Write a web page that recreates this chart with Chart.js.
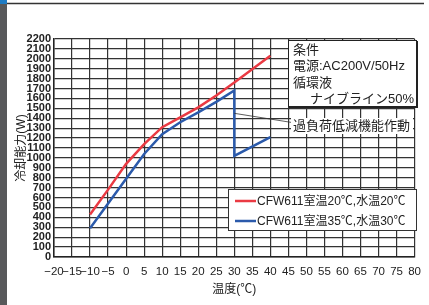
<!DOCTYPE html>
<html>
<head>
<meta charset="utf-8">
<script src="https://cdn.jsdelivr.net/npm/chart.js@4.4.1/dist/chart.umd.min.js"></script>
<style>
  html, body { margin: 0; padding: 0; background: #fff; }
  #wrap { width: 429px; height: 305px; position: relative; }
</style>
</head>
<body>
<div id="wrap"><canvas id="myChart" width="429" height="305"></canvas></div>
<script>
// series (temperature, cooling capacity)
const redX = [-10, -5, 0, 5, 10, 15, 20, 25, 30, 40]
const redY = [430, 680, 940, 1140, 1310, 1410, 1510, 1630, 1760, 2030]
const blueX = [-10, -5, 0, 5, 10, 15, 20, 25, 30, 30, 40]
const blueY = [290, 540, 790, 1040, 1240, 1360, 1460, 1565, 1680, 1020, 1210]

const seriesLabels = ['CFW611室温20℃,水温20℃', 'CFW611室温35℃,水温30℃']
const conditionLines = ['条件', '電源:AC200V/50Hz', '循環液', 'ナイブライン50%']
const noteText = '過負荷低減機能作動'
const notePoint = { x: 30, y: 1450 }

const latin = "'Liberation Sans', 'Noto Sans CJK JP', sans-serif"

function pts(xs, ys) {
  return xs.map((x, i) => ({ x: x, y: ys[i] }))
}

let data = {
  datasets: [
    {
      label: seriesLabels[0],
      borderColor: '#ea3a43',
      backgroundColor: '#ea3a43',
      data: pts(redX, redY),
      pointRadius: 0,
      borderWidth: 2.5,
      fill: false,
    },
    {
      label: seriesLabels[1],
      borderColor: '#2b5aab',
      backgroundColor: '#2b5aab',
      data: pts(blueX, blueY),
      pointRadius: 0,
      borderWidth: 2.5,
      fill: false,
    },
  ],
}

const frame = {
  id: 'frame',
  beforeDraw(chart) {
    const ctx = chart.ctx
    ctx.save()
    ctx.fillStyle = '#fff'
    ctx.fillRect(0, 0, chart.width, chart.height)
    ctx.fillStyle = '#58595b'
    ctx.fillRect(0, 0, 7, chart.height)
    ctx.fillStyle = '#1f7cc4'
    ctx.fillRect(0, 0, 7, 4)
    ctx.strokeStyle = '#333'
    ctx.lineWidth = 1.5
    ctx.beginPath()
    ctx.moveTo(7, 3.5)
    ctx.lineTo(424, 3.5)
    ctx.stroke()
    ctx.restore()
  },
  afterDatasetsDraw(chart) {
    const ctx = chart.ctx
    const xs = chart.scales.x
    const ys = chart.scales.y
    ctx.save()
    ctx.textBaseline = 'middle'
    ctx.font = '13px ' + latin

    // note leader line and label
    ctx.strokeStyle = '#333'
    ctx.lineWidth = 0.8
    ctx.beginPath()
    ctx.moveTo(xs.getPixelForValue(notePoint.x), ys.getPixelForValue(notePoint.y))
    ctx.lineTo(292, 122.5)
    ctx.stroke()
    const nw = ctx.measureText(noteText).width
    ctx.fillStyle = '#fff'
    ctx.fillRect(291, 118, nw + 5, 16)
    ctx.fillStyle = '#222'
    ctx.fillText(noteText, 293, 126.5)

    // condition box
    ctx.fillStyle = '#fff'
    ctx.fillRect(288.5, 40.5, 128, 66)
    ctx.strokeStyle = '#222'
    ctx.lineWidth = 1
    ctx.strokeRect(288.5, 40.5, 128, 66)
    ctx.lineWidth = 2
    ctx.beginPath()
    ctx.moveTo(417, 41)
    ctx.lineTo(417, 107)
    ctx.lineTo(289, 107)
    ctx.stroke()
    ctx.fillStyle = '#222'
    ctx.textAlign = 'left'
    ctx.fillText(conditionLines[0], 293, 50)
    ctx.fillText(conditionLines[1], 293, 66.5)
    ctx.fillText(conditionLines[2], 293, 83)
    ctx.textAlign = 'right'
    ctx.fillText(conditionLines[3], 414, 99)

    // legend box
    ctx.font = '12px ' + latin
    ctx.textAlign = 'left'
    ctx.fillStyle = '#fff'
    ctx.fillRect(228.5, 189.5, 188, 41)
    ctx.strokeStyle = '#333'
    ctx.lineWidth = 1
    ctx.strokeRect(228.5, 189.5, 188, 41)
    chart.data.datasets.forEach((ds, i) => {
      const y = 201 + i * 20
      ctx.strokeStyle = ds.borderColor
      ctx.lineWidth = 2.5
      ctx.beginPath()
      ctx.moveTo(235, y)
      ctx.lineTo(256, y)
      ctx.stroke()
      ctx.fillStyle = '#222'
      ctx.fillText(ds.label, 257, y + 0.5)
    })
    ctx.restore()
  },
}

let config = {
  type: 'line',
  data: data,
  plugins: [frame],
  options: {
    responsive: false,
    animation: false,
    layout: { padding: { left: 0, top: 39, right: 11, bottom: 0 } },
    scales: {
      x: {
        type: 'linear',
        min: -20,
        max: 80,
        afterFit: (s) => { s.height = 48 },
        ticks: {
          stepSize: 5,
          autoSkip: false,
          maxRotation: 0,
          padding: 8,
          color: '#222',
          font: { family: latin, size: 11.5 },
          callback: (v) => String(v).replace('-', '−'),
        },
        grid: { color: '#333', lineWidth: 1.2, drawTicks: false },
        border: { color: '#222', width: 1.5 },
        title: {
          display: true,
          text: '温度(℃)',
          color: '#222',
          font: { family: latin, size: 12 },
          padding: { top: 0, bottom: 8 },
        },
      },
      y: {
        min: 0,
        max: 2200,
        afterFit: (s) => { s.width = 54 },
        ticks: {
          stepSize: 100,
          autoSkip: false,
          padding: 3,
          color: '#222',
          font: { family: latin, size: 11, weight: 'bold' },
          callback: (v) => String(v),
        },
        grid: { color: '#333', lineWidth: 1.2, drawTicks: false },
        border: { color: '#222', width: 1.5 },
        title: {
          display: true,
          text: '冷却能力(W)',
          color: '#222',
          font: { family: latin, size: 12 },
          padding: { top: 14, bottom: 0 },
        },
      },
    },
    plugins: {
      legend: { display: false },
      tooltip: { enabled: false },
    },
  },
}

let chart = new Chart(document.getElementById('myChart'), config)
</script>
</body>
</html>
